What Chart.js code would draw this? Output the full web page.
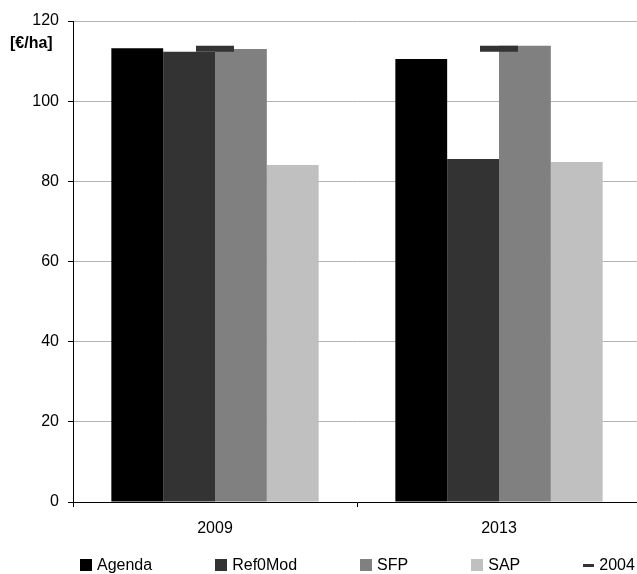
<!DOCTYPE html>
<html>
<head>
<meta charset="utf-8">
<script src="https://cdn.jsdelivr.net/npm/chart.js@4"></script>
<style>
  html, body { margin:0; padding:0; background:#fff; overflow:hidden; }
  .wrap { position:relative; width:637px; height:574px; overflow:hidden; }
  .chart-box { position:absolute; left:0; top:0; width:641px; height:574px; }
  .legend { position:absolute; left:80px; top:556px; display:flex; gap:63px;
            font:16px 'Liberation Sans', Arial, sans-serif; color:#000; }
  .legend .item { display:flex; align-items:center; white-space:nowrap; }
  .legend .sw { width:12px; height:12px; margin-right:5px; }
  .legend .dash { width:11px; height:3px; margin-right:5px; }
</style>
</head>
<body>
<div class="wrap">
  <div class="chart-box"><canvas id="chart" width="641" height="574"></canvas></div>
  <div class="legend" id="legend"></div>
</div>
<script>
// ── data ────────────────────────────────────────────────
const years    = ['2009', '2013'];
const agenda   = [113.2, 110.5];
const ref0Mod  = [112.3, 85.6];
const sfp      = [113.0, 113.8];
const sap      = [84.1, 84.8];
const base2004 = [113.1, 113.1];
const unitLabel = '[€/ha]';

const barColors = ['#000000', '#333333', '#808080', '#c0c0c0'];
const dashColor = '#333333';

Chart.defaults.font.family = "'Liberation Sans', Arial, sans-serif";
Chart.defaults.font.size = 16;
Chart.defaults.color = '#000';

// unit text top-left of the value axis
const unitPlugin = {
  id: 'unitLabel',
  afterDraw(chart) {
    const { ctx, chartArea } = chart;
    ctx.save();
    ctx.font = "bold 16px 'Liberation Sans', Arial, sans-serif";
    ctx.fillStyle = '#000';
    ctx.textAlign = 'left';
    ctx.textBaseline = 'middle';
    ctx.fillText(unitLabel, chartArea.left - 63, chartArea.top + 23);
    ctx.restore();
  }
};

const bar = (label, data, color) => ({
  label, data, backgroundColor: color, borderWidth: 0,
  categoryPercentage: 0.73, barPercentage: 1
});

const chart = new Chart(document.getElementById('chart'), {
  type: 'bar',
  data: {
    labels: years,
    datasets: [
      bar('Agenda',  agenda,  barColors[0]),
      bar('Ref0Mod', ref0Mod, barColors[1]),
      bar('SFP',     sfp,     barColors[2]),
      bar('SAP',     sap,     barColors[3]),
      { type:'line', label:'2004', data: base2004, showLine:false,
        pointStyle:'line', pointRadius:19, pointHoverRadius:19,
        borderColor: dashColor, backgroundColor: dashColor,
        pointBorderWidth:6, borderWidth:6, order:-1 }
    ]
  },
  options: {
    responsive: false,
    animation: false,
    layout: { autoPadding: false, padding: { top: 21, right: 0, bottom: 32, left: 0 } },
    plugins: { legend: { display:false }, tooltip: { enabled:false } },
    scales: {
      x: {
        grid: { drawOnChartArea:false, offset:true, tickLength:5, tickColor:'#000' },
        border: { color:'#000' },
        ticks: { padding:12 },
        afterFit: s => { s.height = 40; s.paddingLeft = 0; s.paddingRight = 0; }
      },
      y: {
        min: 0, max: 120,
        ticks: { stepSize:20, padding:9 },
        grid: { color:'#b3b3b3', tickColor:'#000', tickLength:5 },
        border: { color:'#000' },
        afterFit: s => { s.width = 73; s.paddingTop = 0; s.paddingBottom = 0; }
      }
    }
  },
  plugins: [unitPlugin]
});

// html legend
const legendEl = document.getElementById('legend');
chart.data.datasets.forEach(ds => {
  const item = document.createElement('div');
  item.className = 'item';
  const mark = document.createElement('span');
  if (ds.type === 'line') { mark.className = 'dash'; mark.style.background = ds.borderColor; }
  else { mark.className = 'sw'; mark.style.background = ds.backgroundColor; }
  item.appendChild(mark);
  item.appendChild(document.createTextNode(ds.label));
  legendEl.appendChild(item);
});
</script>
</body>
</html>
